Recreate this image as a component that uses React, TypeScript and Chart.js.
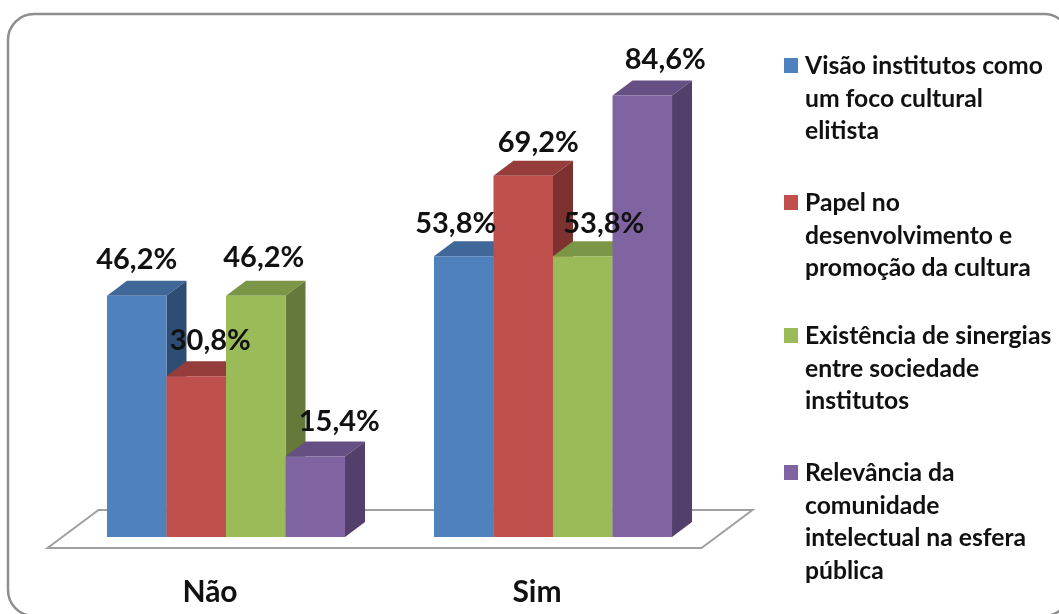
import React, { useEffect, useRef } from "react";
import { Chart, registerables } from "chart.js";

Chart.register(...registerables);

const categories = ["Não", "Sim"];
const seriesNames = [
  "Visão institutos como um foco cultural elitista",
  "Papel no desenvolvimento e promoção da cultura",
  "Existência de sinergias entre sociedade institutos",
  "Relevância da comunidade intelectual na esfera pública",
];
const visaoValues = [46.2, 53.8];
const papelValues = [30.8, 69.2];
const existenciaValues = [46.2, 53.8];
const relevanciaValues = [15.4, 84.6];

const legendLines = [
  ["Visão institutos como", "um foco cultural", "elitista"],
  ["Papel no", "desenvolvimento e", "promoção da cultura"],
  ["Existência de sinergias", "entre sociedade", "institutos"],
  ["Relevância da", "comunidade", "intelectual na esfera", "pública"],
];
const legendFirstLineY = [66, 203, 336, 473];

const frontColors = ["#4F81BD", "#C0504D", "#9BBB59", "#8064A2"];
const topColors = ["#3F6797", "#953D3A", "#7C9647", "#664F82"];
const sideColors = ["#2F4D72", "#7D3230", "#657A3A", "#533F6B"];

// hand placement of the value labels relative to their bars, per series and category
const labelShiftX = [[0, -8], [14, 15], [8, 21], [24, 23]];
const labelShiftY = [[-36, -33], [-36, -33], [-38, -33], [-35, -36]];

const DEPTH_X = 20;
const DEPTH_Y = 15;
const FONT = "Lato, sans-serif";
const INK = "#111111";

function poly(ctx: CanvasRenderingContext2D, pts: number[][], fill: string) {
  ctx.fillStyle = fill;
  ctx.beginPath();
  pts.forEach((p, i) => (i ? ctx.lineTo(p[0], p[1]) : ctx.moveTo(p[0], p[1])));
  ctx.closePath();
  ctx.fill();
}

const scene3d = {
  id: "scene3d",
  beforeDatasetsDraw(chart: any) {
    const ctx: CanvasRenderingContext2D = chart.ctx;
    const area = chart.chartArea;

    // outer frame
    ctx.save();
    ctx.strokeStyle = "#8E8E8E";
    ctx.lineWidth = 2.5;
    ctx.beginPath();
    ctx.roundRect(8, 14, 1062, 602, 26);
    ctx.stroke();

    // floor of the 3D box
    const y0 = chart.scales.y.getPixelForValue(0);
    ctx.strokeStyle = "#A0A0A0";
    ctx.lineWidth = 2;
    ctx.beginPath();
    ctx.moveTo(area.left - 15, y0 + 11);
    ctx.lineTo(area.left + 36, y0 - 27);
    ctx.lineTo(area.right + 36, y0 - 27);
    ctx.lineTo(area.right - 15, y0 + 11);
    ctx.closePath();
    ctx.stroke();
    ctx.restore();

    chart.data.datasets.forEach((_: any, i: number) => {
      const meta = chart.getDatasetMeta(i);
      meta.data.forEach((bar: any) => {
        const l = bar.x - bar.width / 2;
        const r = bar.x + bar.width / 2;
        const t = bar.y;
        const b = bar.base;
        poly(ctx, [[l, t], [r, t], [r + DEPTH_X, t - DEPTH_Y], [l + DEPTH_X, t - DEPTH_Y]], topColors[i]);
        poly(ctx, [[r, t], [r + DEPTH_X, t - DEPTH_Y], [r + DEPTH_X, b - DEPTH_Y], [r, b]], sideColors[i]);
      });
      meta.controller.draw();
    });
    return false;
  },
  afterDraw(chart: any) {
    const ctx: CanvasRenderingContext2D = chart.ctx;
    ctx.save();
    ctx.fillStyle = INK;
    // value labels
    ctx.font = `700 29px ${FONT}`;
    ctx.textAlign = "center";
    ctx.textBaseline = "middle";
    chart.data.datasets.forEach((ds: any, i: number) => {
      chart.getDatasetMeta(i).data.forEach((bar: any, j: number) => {
        const text = ds.data[j].toFixed(1).replace(".", ",") + "%";
        ctx.fillText(text, bar.x + labelShiftX[i][j], bar.y + labelShiftY[i][j]);
      });
    });
    // legend
    ctx.font = `700 24.7px ${FONT}`;
    ctx.textAlign = "left";
    legendLines.forEach((lines, i) => {
      const y = legendFirstLineY[i];
      ctx.fillStyle = frontColors[i];
      ctx.fillRect(784, y - 8, 14, 15);
      ctx.fillStyle = INK;
      lines.forEach((line, k) => ctx.fillText(line, 805, y + k * 32.7));
    });
    ctx.restore();
  },
};

export default function App() {
  const ref = useRef<HTMLCanvasElement>(null);
  useEffect(() => {
    document.body.style.margin = "0";
    document.body.style.background = "#ffffff";
    const mk = (idx: number, data: number[]) => ({
      label: seriesNames[idx],
      data,
      backgroundColor: frontColors[idx],
      borderWidth: 0,
      categoryPercentage: 0.728,
      barPercentage: 1,
    });
    const chart = new Chart(ref.current!, {
      type: "bar",
      data: {
        labels: categories,
        datasets: [mk(0, visaoValues), mk(1, papelValues), mk(2, existenciaValues), mk(3, relevanciaValues)],
      },
      options: {
        animation: false,
        responsive: false,
        layout: { padding: { left: 62.5, right: 342.5, top: 15, bottom: 0 } },
        plugins: { legend: { display: false }, tooltip: { enabled: false }, title: { display: false } },
        scales: {
          x: {
            grid: { display: false },
            border: { display: false },
            afterFit(scale: any) {
              scale.height = 77;
            },
            ticks: {
              color: INK,
              font: { family: FONT, size: 30, weight: 700 as any },
              padding: 29,
              maxRotation: 0,
              labelOffset: -16,
            },
          },
          y: { display: false, min: 0, max: 100 },
        },
      },
      plugins: [scene3d],
    } as any);
    return () => chart.destroy();
  }, []);
  return <canvas ref={ref} width={1059} height={614} style={{ display: "block", filter: "blur(0.5px)" }} />;
}
